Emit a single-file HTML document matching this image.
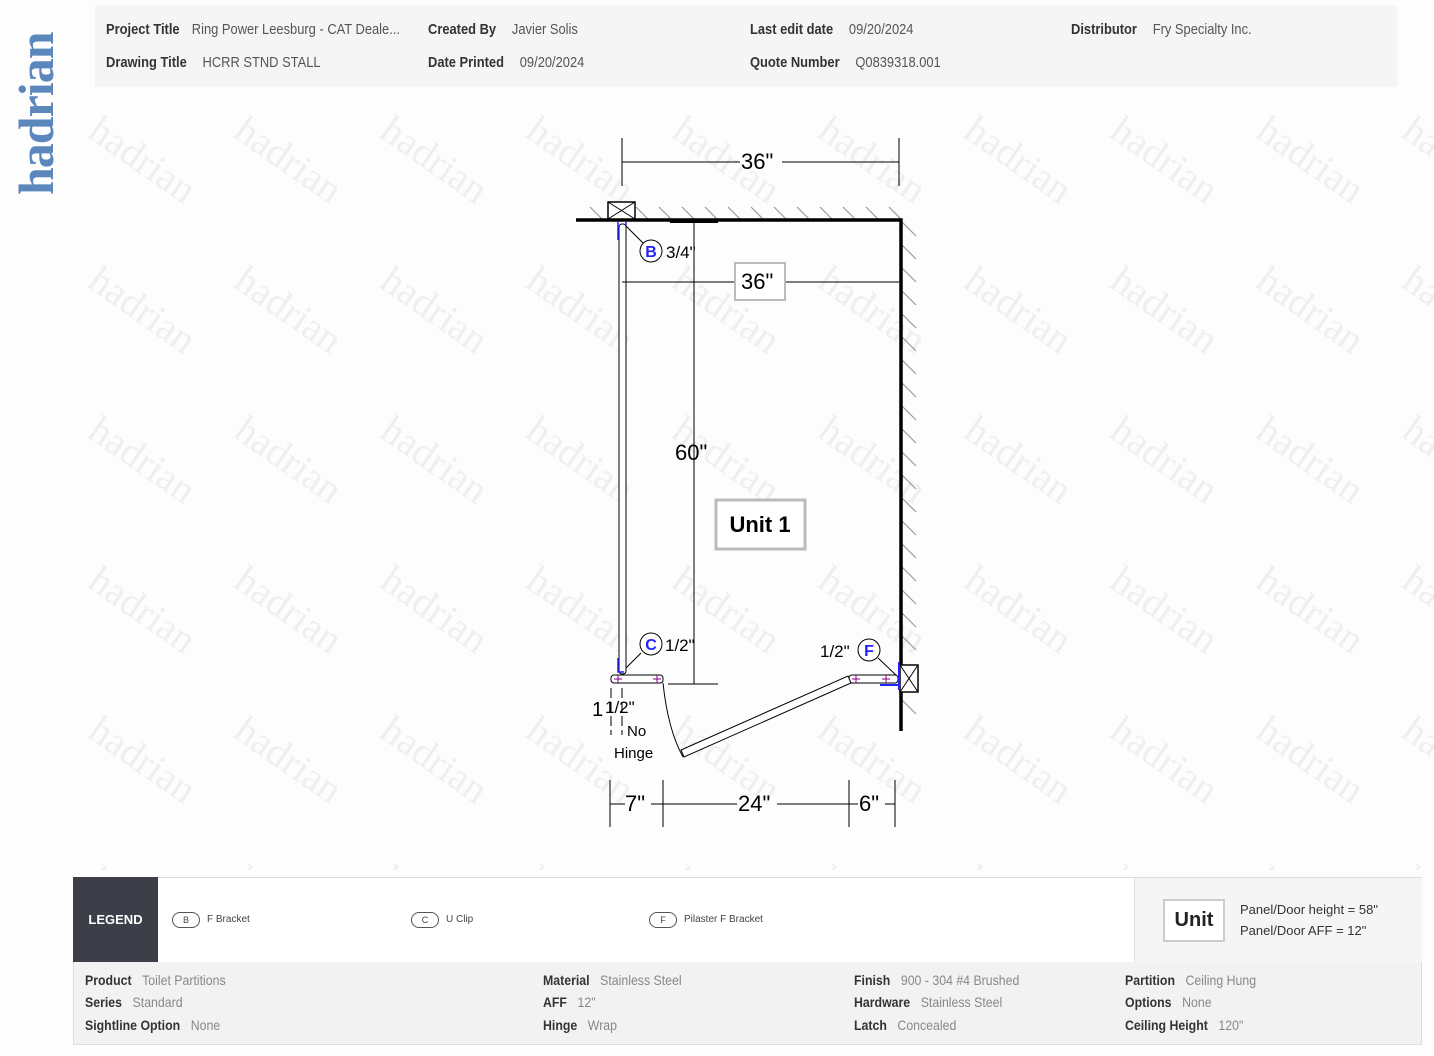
<!DOCTYPE html>
<html><head><meta charset="utf-8"><style>
html,body{margin:0;padding:0;background:#fdfdfd;}
body{width:1434px;height:1056px;position:relative;overflow:hidden;font-family:"Liberation Sans",sans-serif;}
.hdr{position:absolute;left:95px;top:5px;width:1302px;height:82px;background:#f5f5f5;}
.t{position:absolute;font-size:15px;color:#444;white-space:nowrap;transform:scaleX(0.86);transform-origin:0 0;}
.t b{color:#333;margin-right:10px;}
.t span{color:#555;}
.logo{position:absolute;left:16px;top:195px;transform-origin:0 0;transform:rotate(-90deg);font-family:"Liberation Serif",serif;font-weight:bold;font-size:50px;color:#5b87bd;letter-spacing:-1px;line-height:40px;}
.leg{position:absolute;left:73px;top:877px;width:1347px;height:85px;background:#fff;border:1px solid #ddd;}
.legd{position:absolute;left:73px;top:877px;width:85px;height:86px;background:#3c3f47;color:#fff;font:bold 13px "Liberation Sans",sans-serif;line-height:86px;text-align:center;}
.pill{position:absolute;top:912px;width:26px;height:14px;border:1px solid #555;border-radius:8px;font:9px "Liberation Sans",sans-serif;text-align:center;line-height:14px;color:#444;}
.lt{position:absolute;top:914px;font:10px "Liberation Sans",sans-serif;color:#444;}
.unitarea{position:absolute;left:1134px;top:878px;width:287px;height:84px;background:#f5f5f5;border-left:1px solid #ddd;}
.info{position:absolute;left:73px;top:962px;width:1347px;height:82px;background:#f2f2f2;border:1px solid #ddd;border-top:none;}
.i{position:absolute;font-size:14px;white-space:nowrap;transform:scaleX(0.88);transform-origin:0 0;}
.i b{color:#333;margin-right:12px;}
.i span{color:#888;}
</style></head><body>
<svg width="1434" height="1056" style="position:absolute;left:0;top:0">
<defs><pattern id="wm" x="80" y="110" width="146" height="150" patternUnits="userSpaceOnUse">
<text x="0" y="0" transform="translate(6,26) rotate(35)" font-family="Liberation Serif,serif" font-size="40" fill="#efefef">hadrian</text></pattern></defs>
<rect x="70" y="100" width="1364" height="770" fill="url(#wm)"/>
</svg>
<div class="logo">hadrian</div>
<div class="hdr"></div>
<div class="t" style="left:106px;top:21px"><b>Project Title</b> <span>Ring Power Leesburg - CAT Deale...</span></div>
<div class="t" style="left:106px;top:54px"><b>Drawing Title</b> <span>&nbsp;HCRR STND STALL</span></div>
<div class="t" style="left:428px;top:21px"><b>Created By</b> <span>&nbsp;Javier Solis</span></div>
<div class="t" style="left:428px;top:54px"><b>Date Printed</b> <span>&nbsp;09/20/2024</span></div>
<div class="t" style="left:750px;top:21px"><b>Last edit date</b> <span>&nbsp;09/20/2024</span></div>
<div class="t" style="left:750px;top:54px"><b>Quote Number</b> <span>&nbsp;Q0839318.001</span></div>
<div class="t" style="left:1071px;top:21px"><b>Distributor</b> <span>&nbsp;Fry Specialty Inc.</span></div>

<svg width="1434" height="1056" style="position:absolute;left:0;top:0" font-family="Liberation Sans,sans-serif">
<g stroke="#999" stroke-width="1.2">
<path d="M590 207l13 13M613 207l13 13M636 207l13 13M659 207l13 13M682 207l13 13M705 207l13 13M728 207l13 13M751 207l13 13M774 207l13 13M797 207l13 13M820 207l13 13M843 207l13 13M866 207l13 13M889 207l13 13"/>
<path d="M902 222l14 14M902 245l14 14M902 268l14 14M902 291l14 14M902 314l14 14M902 337l14 14M902 360l14 14M902 383l14 14M902 406l14 14M902 429l14 14M902 452l14 14M902 475l14 14M902 498l14 14M902 521l14 14M902 544l14 14M902 567l14 14M902 590l14 14M902 613l14 14M902 636l14 14M902 700l14 14"/>
</g>
<path d="M576 220H901V731" stroke="#000" stroke-width="3.5" fill="none"/>
<path d="M670 222H718" stroke="#000" stroke-width="2"/>
<g stroke="#000" stroke-width="1" fill="none">
<path d="M622 138V186M899 138V186M622 162H740M782 162H899"/>
<rect x="608" y="202" width="27" height="17" fill="#fff" stroke-width="1.5"/>
<path d="M608 202L635 219M635 202L608 219"/>
<rect x="619" y="224" width="7" height="450" rx="3" fill="#fff"/>
<path d="M622 282H899M694 222V684M668 684H718"/>
<path d="M626 226L643 243M626 668L641 653M897 676L878 658"/>
<rect x="611" y="675" width="52" height="8" rx="3" fill="#fff"/>
<rect x="849" y="675" width="49" height="8" rx="3" fill="#fff"/>
<path d="M663 683Q668 730 683 757"/>
<path d="M681 750L848 676L851 683L684 757Z" fill="#fff"/>
<rect x="900" y="665" width="18" height="27" fill="#fff" stroke-width="1.5"/>
<path d="M900 665L918 692M918 665L900 692"/>
<path d="M611 688V735M622 688V735" stroke-dasharray="10 4"/>
<path d="M610 780V827M663 780V827M849 780V827M895 780V827M610 804H625M651 804H737M777 804H858M885 804H895"/>
<circle cx="651" cy="251" r="11" fill="#fff"/><circle cx="651" cy="644" r="11" fill="#fff"/><circle cx="869" cy="650" r="11" fill="#fff"/>
</g>
<path d="M618 222V240M626 222V226" stroke="#22f" stroke-width="1.5" fill="none"/>
<path d="M618 658V672H624" stroke="#22f" stroke-width="1.5" fill="none"/>
<path d="M899 662V690M880 685H899" stroke="#22f" stroke-width="2" fill="none"/>
<g stroke="#808" stroke-width="1"><path d="M614 679h8M618 675v8M653 679h8M657 675v8M852 679h8M856 675v8M882 679h8M886 675v8"/></g>
<rect x="735" y="263" width="50" height="37" fill="#fff" stroke="#bbb" stroke-width="2"/>
<rect x="716" y="500" width="89" height="49" fill="#fff" stroke="#bbb" stroke-width="3"/>
<g font-size="22" fill="#000">
<text x="741" y="169">36"</text>
<text x="741" y="289">36"</text>
<text x="675" y="460">60"</text>
<text x="625" y="811">7"</text>
<text x="738" y="811">24"</text>
<text x="859" y="811">6"</text>
</g>
<text x="760" y="532" font-size="22" font-weight="bold" text-anchor="middle">Unit 1</text>
<g font-size="17"><text x="666" y="258">3/4"</text><text x="665" y="651">1/2"</text><text x="820" y="657">1/2"</text><text x="592" y="716" font-size="20">1</text><text x="605" y="713">1/2"</text></g>
<g font-size="15"><text x="627" y="736">No</text><text x="614" y="758">Hinge</text></g>
<g font-size="16" fill="#22f" text-anchor="middle" font-weight="bold"><text x="651" y="257">B</text><text x="651" y="650">C</text><text x="869" y="656">F</text></g>
</svg>

<div class="leg"></div>
<div class="legd">LEGEND</div>
<div class="pill" style="left:172px">B</div><div class="lt" style="left:207px">F Bracket</div>
<div class="pill" style="left:411px">C</div><div class="lt" style="left:446px">U Clip</div>
<div class="pill" style="left:649px">F</div><div class="lt" style="left:684px">Pilaster F Bracket</div>
<div class="unitarea"></div>
<div style="position:absolute;left:1163px;top:899px;width:58px;height:39px;background:#fff;border:2px solid #ccc;font:bold 20px 'Liberation Sans',sans-serif;text-align:center;line-height:39px;color:#222">Unit</div>
<div style="position:absolute;left:1240px;top:899px;font:13px 'Liberation Sans',sans-serif;color:#333;line-height:21px">Panel/Door height = 58"<br>Panel/Door AFF = 12"</div>
<div class="info"></div>
<div class="i" style="left:85px;top:972px"><b>Product</b><span>Toilet Partitions</span></div>
<div class="i" style="left:85px;top:994px"><b>Series</b><span>Standard</span></div>
<div class="i" style="left:85px;top:1017px"><b>Sightline Option</b><span>None</span></div>
<div class="i" style="left:543px;top:972px"><b>Material</b><span>Stainless Steel</span></div>
<div class="i" style="left:543px;top:994px"><b>AFF</b><span>12"</span></div>
<div class="i" style="left:543px;top:1017px"><b>Hinge</b><span>Wrap</span></div>
<div class="i" style="left:854px;top:972px"><b>Finish</b><span>900 - 304 #4 Brushed</span></div>
<div class="i" style="left:854px;top:994px"><b>Hardware</b><span>Stainless Steel</span></div>
<div class="i" style="left:854px;top:1017px"><b>Latch</b><span>Concealed</span></div>
<div class="i" style="left:1125px;top:972px"><b>Partition</b><span>Ceiling Hung</span></div>
<div class="i" style="left:1125px;top:994px"><b>Options</b><span>None</span></div>
<div class="i" style="left:1125px;top:1017px"><b>Ceiling Height</b><span>120"</span></div>
</body></html>
